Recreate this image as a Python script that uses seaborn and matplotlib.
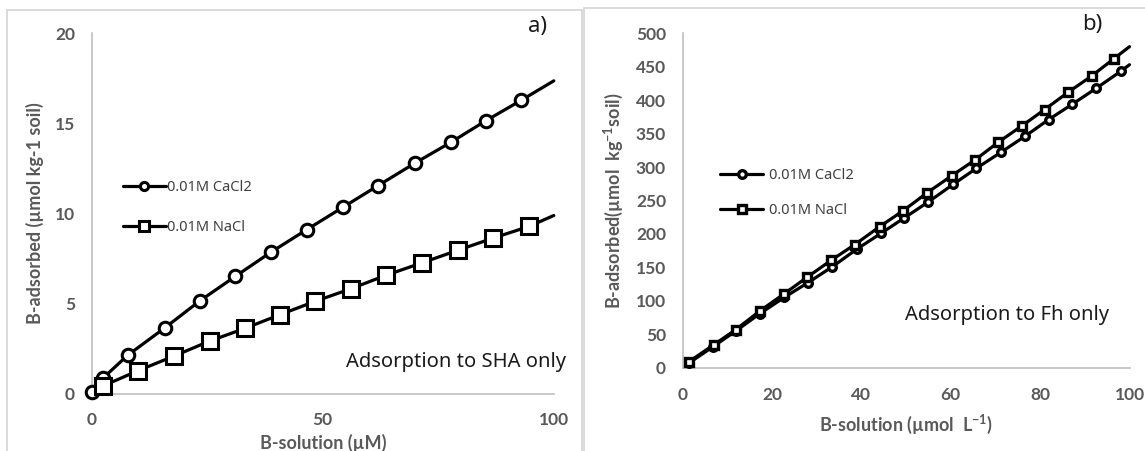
import numpy as np
import pandas as pd
import seaborn as sns
import matplotlib.pyplot as plt
from matplotlib.patches import Rectangle

# panel a) - adsorption to SHA only (last x = 100 is the line end, no marker)
a_ca_x = [0, 2.4, 7.8, 15.8, 23.4, 31.1, 38.8, 46.5, 54.4, 62.0, 70.0, 77.7, 85.3, 93.0, 100]
a_ca_y = [0.1, 0.87, 2.15, 3.66, 5.16, 6.52, 7.86, 9.1, 10.35, 11.55, 12.8, 13.94, 15.14, 16.28, 17.35]
a_na_x = [2.4, 10.0, 17.8, 25.5, 33.1, 40.8, 48.4, 56.2, 63.6, 71.4, 79.2, 86.9, 94.6, 100]
a_na_y = [0.44, 1.29, 2.1, 2.93, 3.63, 4.4, 5.14, 5.84, 6.57, 7.26, 7.96, 8.64, 9.28, 9.89]

# panel b) - adsorption to Fh only
b_ca_x = [1.4, 6.7, 11.9, 17.3, 22.7, 28.0, 33.5, 38.9, 44.4, 49.6, 55.0, 60.5, 65.7, 71.2,
          76.6, 81.9, 87.2, 92.6, 98.0, 100]
b_ca_y = [7, 31, 55, 81, 105, 127, 151, 177, 201, 224, 248, 274, 298, 322, 346, 371, 394,
          418, 443, 453]
b_na_x = [1.4, 6.9, 11.9, 17.3, 22.6, 27.8, 33.3, 38.5, 44.1, 49.4, 54.6, 60.2, 65.5, 70.6,
          76.0, 81.0, 86.3, 91.5, 96.5, 100]
b_na_y = [9, 34, 57, 85, 110, 135, 161, 184, 211, 235, 261, 287, 311, 337, 362, 386, 412,
          436, 462, 480]

labels = ['0.01M CaCl2', '0.01M NaCl']

sns.set_style('white')
plt.rcParams['font.family'] = ['Noto Sans', 'DejaVu Sans']
# superscripts in the axis labels drawn in the same bold face
plt.rcParams['mathtext.fontset'] = 'custom'
plt.rcParams['mathtext.rm'] = 'Lato:bold'
plt.rcParams['mathtext.default'] = 'rm'
bold_font = ['Lato', 'DejaVu Sans']

W, H = 1145, 451
fig = plt.figure(figsize=(W / 100, H / 100), dpi=100)

# grey frames around each panel
fig.add_artist(Rectangle((7 / W, -0.05), (582 - 7) / W, (451 - 10) / H + 0.05,
                         transform=fig.transFigure, fill=False, ec='#d4d4d4', lw=1.2))
fig.add_artist(Rectangle((584 / W, -0.05), (1160 - 584) / W, (451 - 8) / H + 0.05,
                         transform=fig.transFigure, fill=False, ec='#d4d4d4', lw=1.2))

ax1 = fig.add_axes([91.7 / W, (451 - 394) / H, (553.8 - 91.7) / W, (394 - 33) / H])
ax2 = fig.add_axes([682.7 / W, (451 - 367.7) / H, (1129.5 - 682.7) / W, (367.7 - 33.3) / H])

tick_col = '#595959'


def draw(ax, xs, ys, marker, ms, mew, lab):
    df = pd.DataFrame({'x': xs, 'y': ys})
    sns.lineplot(data=df, x='x', y='y', ax=ax, color='black', lw=2.3, marker=marker,
                 ms=ms, mew=mew, mfc='white', mec='black', markevery=list(range(len(xs) - 1)),
                 label=lab, clip_on=False, zorder=3)


draw(ax1, a_ca_x, a_ca_y, 'o', 9, 2.2, labels[0])
draw(ax1, a_na_x, a_na_y, 's', 11, 2.2, labels[1])
draw(ax2, b_ca_x, b_ca_y, 'o', 5.5, 2.4, labels[0])
draw(ax2, b_na_x, b_na_y, 's', 5.5, 2.4, labels[1])

for ax in (ax1, ax2):
    ax.set_xlim(0, 100)
    for s in ('top', 'right'):
        ax.spines[s].set_visible(False)
    for s in ('left', 'bottom'):
        ax.spines[s].set_color('#bfbfbf')
        ax.spines[s].set_linewidth(1.2)
    ax.tick_params(axis='both', labelsize=12.5, labelcolor=tick_col)
    ax.tick_params(axis='y', length=0, pad=12)

# panel a axes
ax1.set_ylim(0, 20)
ax1.set_yticks([0, 5, 10, 15, 20])
ax1.set_xticks([0, 50, 100])
ax1.set_xticks([25, 75], minor=True)
ax1.tick_params(axis='x', which='both', length=5, color='#bfbfbf', width=1.2, pad=8)
ax1.set_xlabel('B-solution (µM)', fontsize=13, fontweight='bold', family=bold_font,
               color=tick_col, labelpad=4)
ax1.set_ylabel('B-adsorbed (µmol kg-1 soil)', fontsize=13, fontweight='bold', family=bold_font,
               color=tick_col, labelpad=8)

# panel b axes
ax2.set_ylim(0, 500)
ax2.set_yticks(range(0, 501, 50))
ax2.set_xticks(range(0, 101, 20))
ax2.tick_params(axis='x', length=0, pad=14)
ax2.set_xlabel('B-solution (µmol  L$^{-1}$)', fontsize=13, fontweight='bold', family=bold_font,
               color=tick_col, labelpad=7)
ax2.set_ylabel('B-adsorbed(µmol  kg$^{-1}$soil)', fontsize=13, fontweight='bold',
               family=bold_font, color=tick_col, labelpad=8)

for ax in (ax1, ax2):
    for t in ax.get_xticklabels() + ax.get_yticklabels():
        t.set_fontweight('bold')
        t.set_family(bold_font)

# legends
ax1.legend(loc='upper left', bbox_to_anchor=(0.04, 0.63), frameon=False, fontsize=10.5,
           handlelength=2.9, handletextpad=0.1, markerscale=0.65, labelspacing=1.75,
           labelcolor='#404040')
ax2.legend(loc='upper left', bbox_to_anchor=(0.055, 0.635), frameon=False, fontsize=10.5,
           handlelength=2.9, handletextpad=0.4, markerscale=1.0, labelspacing=1.35,
           labelcolor='#404040')

# annotations
ax1.text(1.026, 0.089, 'Adsorption to SHA only', transform=ax1.transAxes, ha='right',
         va='center', fontsize=14.5, color='#1a1a1a')
ax1.text(0.985, 1.019, 'a)', transform=ax1.transAxes, ha='right', va='center', fontsize=16,
         color='#1a1a1a')
ax2.text(0.497, 0.158, 'Adsorption to Fh only', transform=ax2.transAxes, ha='left',
         va='center', fontsize=14.5, color='#1a1a1a')
ax2.text(0.94, 1.025, 'b)', transform=ax2.transAxes, ha='right', va='center', fontsize=16,
         color='#1a1a1a')

fig.savefig('out.png', dpi=100)
